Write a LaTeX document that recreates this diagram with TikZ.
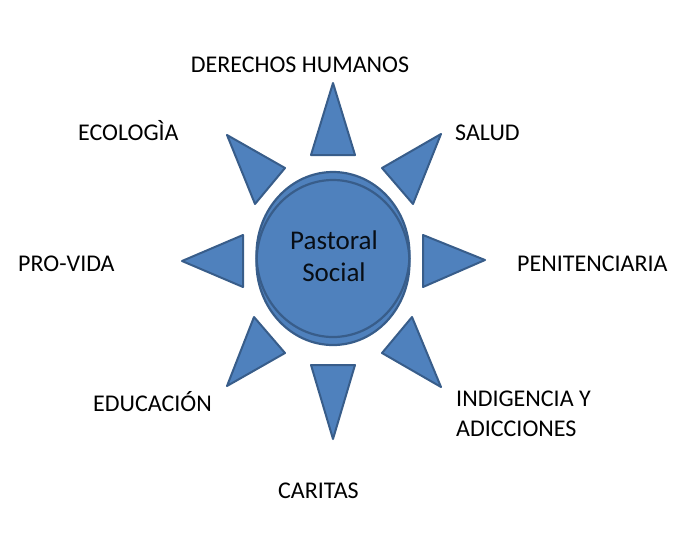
\documentclass[tikz,border=0pt]{standalone}
\usepackage{fontspec}
\setmainfont{Carlito}
\definecolor{sunblue}{RGB}{79,129,189}
\definecolor{sunedge}{RGB}{56,93,138}
\usetikzlibrary{positioning}

\begin{document}
\begin{tikzpicture}[x=1pt, y=-1pt]
    \tikzstyle{ray} = [draw=sunedge, fill=sunblue, line width=2pt, line join=round]
    \tikzstyle{disc} = [draw=sunedge, line width=2.2pt]
    \tikzstyle{lbl} = [inner sep=0pt, font=\fontsize{24}{30}\selectfont]
    \useasboundingbox (0,0) rectangle (684,536);

    % centre of the sun
    \fill [sunblue] (333,254.5) ellipse [x radius=76.5, y radius=82.5];
    \fill [sunblue] (333,262.5) ellipse [x radius=76.5, y radius=82.5];
    \draw [disc] (333,254.5) ellipse [x radius=76.5, y radius=82.5];
    \draw [disc] (333,262.5) ellipse [x radius=76.5, y radius=82.5];
    \node [lbl, align=center, text=black!85!sunedge, font=\fontsize{27}{32}\selectfont] (hub) at (334,256) {Pastoral\\Social};

    % rays
    \draw [ray] (333,83) -- (355,155) -- (311,155) -- cycle;
    \draw [ray] (441,134) -- (413,204) -- (382,168) -- cycle;
    \draw [ray] (485,260) -- (423,287) -- (423,235) -- cycle;
    \draw [ray] (441,387) -- (382,353) -- (412,317) -- cycle;
    \draw [ray] (333,439) -- (311,365) -- (355,365) -- cycle;
    \draw [ray] (227,386) -- (254,317) -- (285,353) -- cycle;
    \draw [ray] (182,261) -- (243,235) -- (243,287) -- cycle;
    \draw [ray] (227,135) -- (285,168) -- (255,204) -- cycle;

    % labels
    \node [lbl, anchor=base] (rights) at (300,72) {DERECHOS HUMANOS};
    \node [lbl, anchor=base west] (ecology) at (78,140) {ECOLOGÌA};
    \node [lbl, anchor=base west] (health) at (455,140) {SALUD};
    \node [lbl, anchor=base west] (prolife) at (18,271) {PRO-VIDA};
    \node [lbl, anchor=base west] (prison) at (517,271) {PENITENCIARIA};
    \node [lbl, anchor=base west] (education) at (93,411) {EDUCACIÓN};
    \node [lbl, anchor=base west] (poverty) at (456,406) {INDIGENCIA Y};
    \node [lbl, anchor=base west] (addiction) at (456,436) {ADICCIONES};
    \node [lbl, anchor=base west] (caritas) at (278,498) {CARITAS};
\end{tikzpicture}
\end{document}
